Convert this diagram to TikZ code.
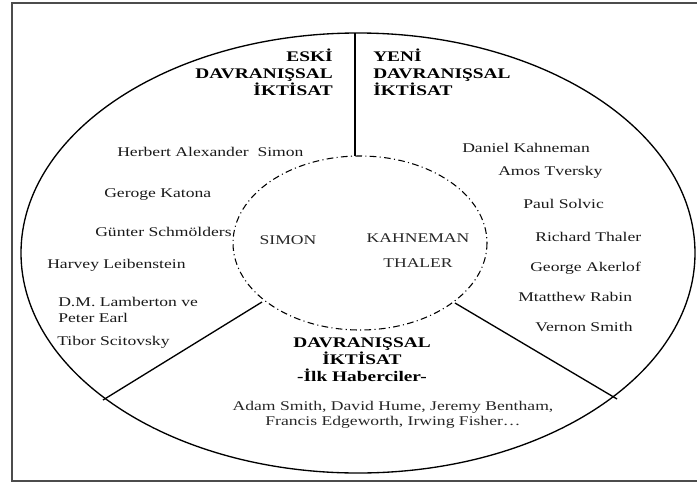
\documentclass[tikz,border=0pt]{standalone}
\usepackage{fontspec}
\setmainfont{Liberation Serif}[FakeStretch=1.32]
\usetikzlibrary{calc}

\begin{document}
\begin{tikzpicture}[x=0.75pt,y=-0.75pt,
	person/.style={anchor=west,inner sep=0pt,text=black!90,font=\fontsize{10}{12}\selectfont},
	school/.style={inner sep=0pt,font=\fontsize{11}{12.75}\selectfont\bfseries},
	founder/.style={inner sep=0pt,text=black!85,font=\fontsize{10}{12}\selectfont},
	rim/.style={line width=1pt},
	core/.style={line width=0.8pt,dash pattern=on 5pt off 2.5pt on 0.8pt off 2.5pt}]

% parameters %{{{2

	\def\outerrx{337}
	\def\outerry{220}
	\def\innerrx{127}
	\def\innerry{87}

% frame %{{{2

	\useasboundingbox (0,0) rectangle (697,483);
	\draw[line width=1.5pt,black!70] (697,3) -- (12,3) -- (12,481) -- (697,481);

% coordinates %{{{2

	\coordinate (O) at (358,253);
	\coordinate (C) at (360,243);

	\coordinate (Top) at (355,33);
	\coordinate (top) at (355,156);
	\coordinate (Left) at (103,400);
	\coordinate (left) at (262,302);
	\coordinate (Right) at (617,399);
	\coordinate (right) at (455,303);

% ellipses %{{{2

	\draw[rim] (O) ellipse [x radius=\outerrx, y radius=\outerry];
	\draw[core] (C) ellipse [x radius=\innerrx, y radius=\innerry];

% dividers %{{{2

	\draw[rim] (Top) -- (top);
	\draw[rim] (left) -- (Left);
	\draw[rim] (right) -- (Right);

% schools %{{{2

	\node[school,anchor=east,align=right] (eski) at (333,72)
		{ESKİ\\DAVRANIŞSAL\\İKTİSAT};
	\node[school,anchor=west,align=left] (yeni) at (373,72)
		{YENİ\\DAVRANIŞSAL\\İKTİSAT};
	\node[school,align=center] (ilk) at (362,360)
		{DAVRANIŞSAL\\İKTİSAT\\-İlk Haberciler-};

% old school names %{{{2

	\node[person] (simon) at (117,152) {Herbert Alexander\ \ Simon};
	\node[person] (katona) at (104,195) {Geroge Katona};
	\node[person] (schmolders) at (95,232) {Günter Schmölders};
	\node[person] (leibenstein) at (47,265) {Harvey Leibenstein};
	\node[person,align=left] (lamberton) at (58,310)
		{D.M. Lamberton ve\\Peter Earl};
	\node[person] (scitovsky) at (57,342) {Tibor Scitovsky};

% new school names %{{{2

	\node[person] (kahneman) at (462,148) {Daniel Kahneman};
	\node[person] (tversky) at (498,172) {Amos Tversky};
	\node[person] (slovic) at (523,204) {Paul Solvic};
	\node[person] (thaler) at (535,237) {Richard Thaler};
	\node[person] (akerlof) at (530,268) {George Akerlof};
	\node[person] (rabin) at (518,297) {Mtatthew Rabin};
	\node[person] (vsmith) at (535,327) {Vernon Smith};

% core names %{{{2

	\node[founder] (csimon) at (288,240) {SIMON};
	\node[founder] (ckahneman) at (418,238) {KAHNEMAN};
	\node[founder] (cthaler) at (418,263) {THALER};

% forerunners %{{{2

	\node[founder,align=center,font=\fontsize{10}{11.25}\selectfont] (forerunners) at (393,415)
		{Adam Smith, David Hume, Jeremy Bentham,\\Francis Edgeworth, Irwing Fisher…};

% closing %{{{2

\end{tikzpicture}
\end{document}
